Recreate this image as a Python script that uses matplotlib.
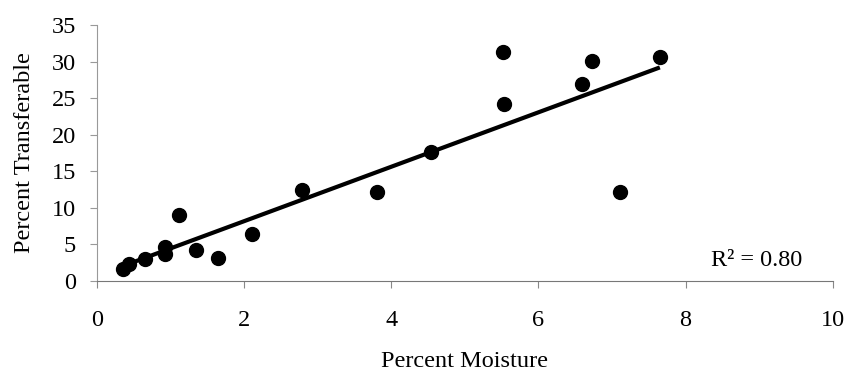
import numpy as np
import matplotlib
matplotlib.use("Agg")
import matplotlib.pyplot as plt

plt.rcParams['font.family'] = ['Liberation Serif', 'DejaVu Serif']

moisture = [0.36, 0.44, 0.65, 0.92, 0.92, 1.12, 1.35, 1.64, 2.11, 2.79,
            3.81, 4.54, 5.52, 5.53, 6.59, 6.73, 7.11, 7.65]
transferable = [1.6, 2.3, 3.05, 3.7, 4.7, 9.0, 4.2, 3.2, 6.4, 12.5,
                12.2, 17.6, 31.3, 24.2, 26.95, 30.1, 12.1, 30.6]
x_ticks = [0, 2, 4, 6, 8, 10]
y_ticks = [0, 5, 10, 15, 20, 25, 30, 35]
r2_label = "R² = 0.80"

FS = 17.5

fig = plt.figure(figsize=(8.48, 3.76), dpi=100)
ax = fig.add_axes([0.1144, 0.2527, 0.8676, 0.6808])

xs = np.array(moisture)
ys = np.array(transferable)
slope, intercept = np.polyfit(xs, ys, 1)
xl = np.array([xs.min(), xs.max()])
ax.plot(xl, slope * xl + intercept, color='black', lw=3.0, solid_capstyle='butt', zorder=2)
ax.plot(xs, ys, 'o', color='black', markersize=10, zorder=3)

ax.set_xlim(0, 10)
ax.set_ylim(0, 35)
ax.set_xticks(x_ticks)
ax.set_yticks(y_ticks)
ax.tick_params(axis='x', direction='out', length=5, width=0.8, color='#888888', pad=16, labelsize=FS)
ax.tick_params(axis='y', direction='out', length=5, width=0.8, color='#999999', pad=10, labelsize=FS)
for s in ['top', 'right']:
    ax.spines[s].set_visible(False)
ax.spines['left'].set_color('#999999')
ax.spines['left'].set_linewidth(0.8)
ax.spines['bottom'].set_color('#777777')
ax.spines['bottom'].set_linewidth(0.8)

ax.set_xlabel("Percent Moisture", fontsize=FS, labelpad=14.5)
ax.set_ylabel("Percent Transferable", fontsize=FS, labelpad=12)
ax.text(9.58, 2.74, r2_label, fontsize=FS, ha='right', va='center')

fig.savefig("out.png", dpi=100)
